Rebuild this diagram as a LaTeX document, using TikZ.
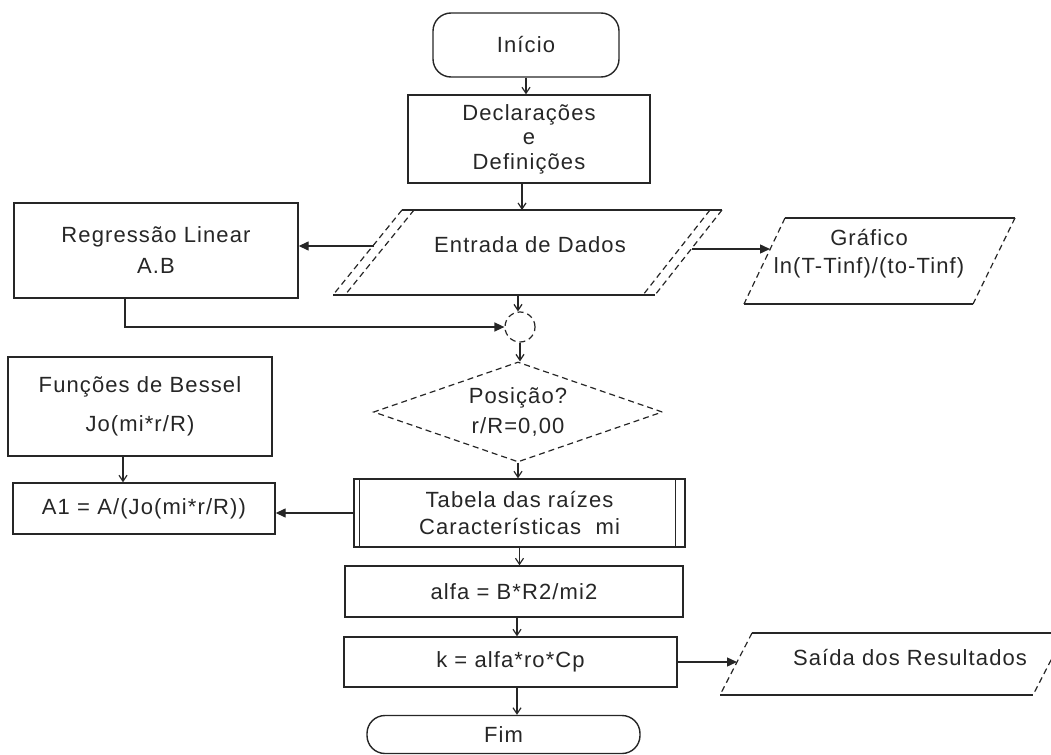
\documentclass[tikz,border=0pt]{standalone}
\usepackage{fontspec}
\setmainfont{Liberation Sans}[LetterSpace=5]
\usepackage{tikz}
\usetikzlibrary{positioning, arrows.meta, shapes}
\tikzstyle{processBox}=[draw, rectangle, line width=0.7pt, align=center, inner sep=2pt]
\tikzstyle{terminalBox}=[draw, rectangle, rounded corners=9pt, line width=0.7pt]
\tikzstyle{decisionBox}=[draw, diamond, densely dashed, line width=0.6pt, aspect=2.89, inner sep=0pt, align=center]
\tikzstyle{junctionNode}=[draw, circle, densely dashed, line width=0.6pt, minimum size=15pt, inner sep=0pt]
\tikzstyle{ioEdge}=[line width=0.7pt]
\tikzstyle{ioSide}=[densely dashed, line width=0.6pt]
\tikzstyle{flowArrow}=[-{Straight Barb[length=3pt,width=4pt]}, line width=0.6pt]
\tikzstyle{sideArrow}=[-{Triangle[length=5pt,width=4.5pt]}, line width=0.7pt]

\begin{document}
\begin{tikzpicture}[x=0.5pt, y=-0.5pt, font=\fontsize{11}{12.25}\selectfont, text=black!85, draw=black!85]
    \useasboundingbox (0,0) rectangle (1051,755);
    \clip (0,0) rectangle (1051,755);

    \node[terminalBox, minimum width=93pt, minimum height=32pt] (inicio) at (526,45) {Início};
    \node[processBox, minimum width=121pt, minimum height=44pt] (decl) at (529,139) {Declarações\\e\\Definições};
    \node (entrada) at (530,245) {Entrada de Dados};
    \node[processBox, minimum width=142pt, minimum height=47.5pt] (regressao) at (156,250.5) {Regressão Linear\\[3.25pt]A.B};
    \node[align=center] (grafico) at (869,254) {Gráfico\\[1.75pt]ln(T-Tinf)/(to-Tinf)};
    \node[junctionNode] (juncao) at (520,327) {};
    \node[decisionBox, minimum width=144.5pt, minimum height=50pt] (posicao) at (518,412) {Posição?\\[2.75pt]r/R=0,00};
    \node[processBox, minimum width=132pt, minimum height=49.5pt] (funcoes) at (140,406.5) {Funções de Bessel\\[7.25pt]Jo(mi*r/R)};
    \node[processBox, minimum width=131pt, minimum height=25.5pt] (a1) at (144,508.5) {A1 = A/(Jo(mi*r/R))};
    \node[processBox, minimum width=165.5pt, minimum height=34pt] (tabela) at (519.5,513) {Tabela das raízes\\[1.25pt]Características\ \ mi};
    \node[processBox, minimum width=169pt, minimum height=25.5pt] (alfa) at (514,591.5) {alfa = B*R2/mi2};
    \node[processBox, minimum width=166.5pt, minimum height=25pt] (k) at (510.5,662) {k = alfa*ro*Cp};
    \node (saida) at (910,658) {Saída dos Resultados};
    \node[terminalBox, minimum width=136.5pt, minimum height=19pt] (fim) at (503.5,734.5) {Fim};

    % predefined process
    \draw[line width=0.6pt] ([xshift=3pt]tabela.north west) -- ([xshift=3pt]tabela.south west);
    \draw[line width=0.6pt] ([xshift=-5pt]tabela.north east) -- ([xshift=-5pt]tabela.south east);

    % input / output
    \draw[ioEdge] (402,210) -- (722,210) (333,295) -- (655,295);
    \draw[ioSide] (402,210) -- (333,295) (414,210) -- (345,295);
    \draw[ioSide] (722,210) -- (655,295) (710,210) -- (643,295);
    \draw[ioEdge] (785,218) -- (1015,218) (744,304) -- (973,304);
    \draw[ioSide] (785,218) -- (744,304) (1015,218) -- (973,304);
    \draw[ioEdge] (752,633) -- (1065,633) (720,695) -- (1033,695);
    \draw[ioSide] (752,633) -- (720,695) (1065,633) -- (1033,695);

    \coordinate (entradaN) at (522,210);
    \coordinate (entradaS) at (518,295);
    \coordinate (entradaW) at (374,246);
    \coordinate (entradaE) at (692,249);
    \coordinate (graficoW) at (770,249);
    \coordinate (saidaW) at (737,662);

    \draw[flowArrow] (inicio.south) -- (inicio.south |- decl.north);
    \draw[flowArrow] (decl.south -| entradaN) -- (entradaN);
    \draw[sideArrow] (entradaW) -- (entradaW -| regressao.east);
    \draw[sideArrow] (entradaE) -- (graficoW);
    \draw[sideArrow] ([xshift=-15.5pt]regressao.south) |- (juncao.west);
    \draw[flowArrow] (entradaS) -- (entradaS |- juncao.north);
    \draw[flowArrow] (juncao.south) -- (juncao.south |- posicao.north);
    \draw[flowArrow] (posicao.south) -- (posicao.south |- tabela.north);
    \draw[sideArrow] (tabela.west) -- (tabela.west -| a1.east);
    \draw[flowArrow] ([xshift=-8.5pt]funcoes.south) -- ([xshift=-8.5pt]funcoes.south |- a1.north);
    \draw[flowArrow] (tabela.south) -- (tabela.south |- alfa.north);
    \draw[flowArrow] ([xshift=1.5pt]alfa.south) -- ([xshift=1.5pt]alfa.south |- k.north);
    \draw[flowArrow] ([xshift=3.25pt]k.south) -- ([xshift=3.25pt]k.south |- fim.north);
    \draw[sideArrow] (k.east) -- (saidaW);

  \end{tikzpicture}
\end{document}
